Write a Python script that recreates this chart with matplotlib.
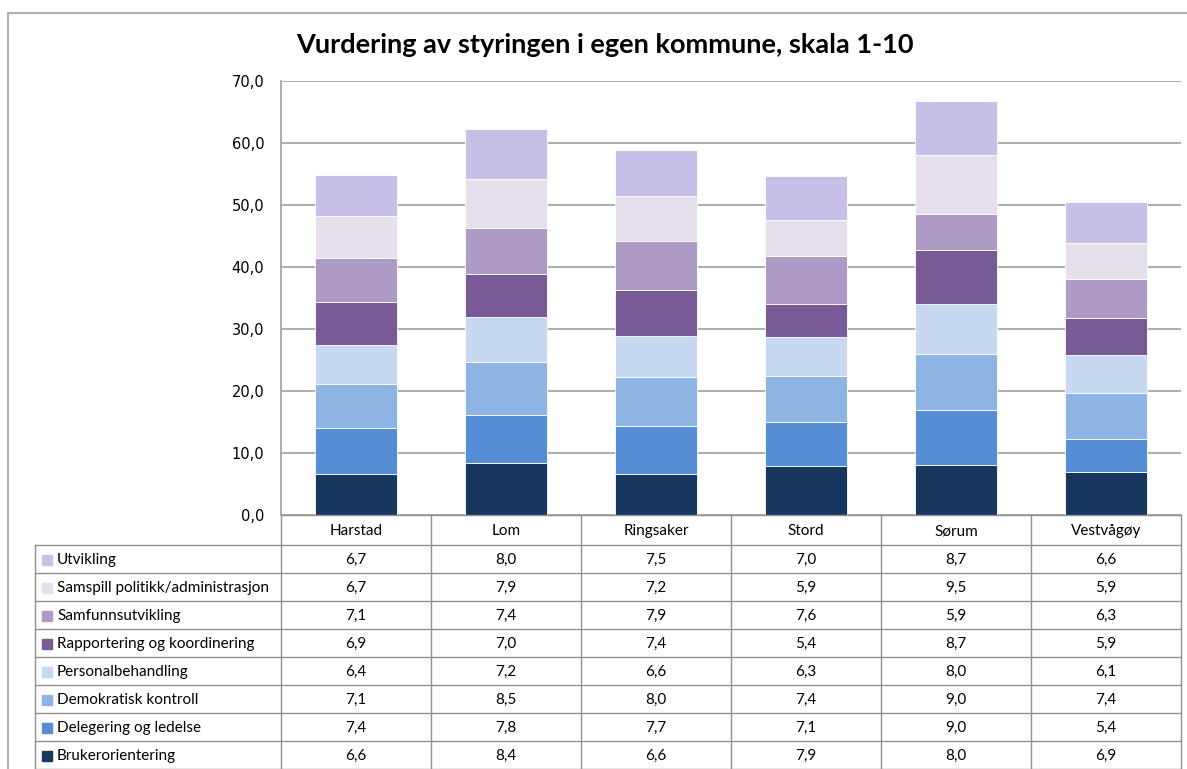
import numpy as np
import matplotlib
matplotlib.use("Agg")
import matplotlib.pyplot as plt
from matplotlib.patches import Rectangle
from matplotlib.lines import Line2D

kommuner = ["Harstad", "Lom", "Ringsaker", "Stord", "Sørum", "Vestvågøy"]

# serier nedenfra og opp i stabelen
serier = ["Brukerorientering", "Delegering og ledelse", "Demokratisk kontroll",
          "Personalbehandling", "Rapportering og koordinering", "Samfunnsutvikling",
          "Samspill politikk/administrasjon", "Utvikling"]
brukerorientering = [6.6, 8.4, 6.6, 7.9, 8.0, 6.9]
delegering = [7.4, 7.8, 7.7, 7.1, 9.0, 5.4]
demokratisk = [7.1, 8.5, 8.0, 7.4, 9.0, 7.4]
personal = [6.4, 7.2, 6.6, 6.3, 8.0, 6.1]
rapportering = [6.9, 7.0, 7.4, 5.4, 8.7, 5.9]
samfunn = [7.1, 7.4, 7.9, 7.6, 5.9, 6.3]
samspill = [6.7, 7.9, 7.2, 5.9, 9.5, 5.9]
utvikling = [6.7, 8.0, 7.5, 7.0, 8.7, 6.6]
verdier = [brukerorientering, delegering, demokratisk, personal,
           rapportering, samfunn, samspill, utvikling]

farger = ["#17375E", "#558ED5", "#8EB4E3", "#C6D9F1",
          "#775A96", "#AD9BC6", "#E6E0EC", "#C8C0E8"]

W, H = 1187, 769
fig = plt.figure(figsize=(W / 100, H / 100), dpi=100)

def fx(px):
    return px / W

def fy(py):
    return 1 - py / H

x_left, x_right = 281, 1181
y_top, y_bot = 81, 515
ax = fig.add_axes([fx(x_left), fy(y_bot), fx(x_right - x_left), (y_bot - y_top) / H])

x = np.arange(len(kommuner))
bunn = np.zeros(len(kommuner))
for navn, v, c in zip(serier, verdier, farger):
    ax.bar(x, v, bottom=bunn, width=0.55, color=c, edgecolor="white", linewidth=0.6, zorder=3)
    bunn += np.array(v)

ax.set_xlim(-0.5, len(kommuner) - 0.5)
ax.set_ylim(0, 70)
ax.set_yticks(np.arange(0, 71, 10))
ax.set_yticklabels([f"{t:.1f}".replace(".", ",") for t in np.arange(0, 71, 10)],
                   fontsize=10.5, family="DejaVu Sans")
ax.tick_params(axis="y", length=0, pad=12)
ax.set_xticks([])
ax.grid(axis="y", color="#A0A0A0", linewidth=1.2, zorder=0)
for s in ["top", "right", "bottom"]:
    ax.spines[s].set_visible(False)
ax.spines["left"].set_color("#A0A0A0")
ax.spines["left"].set_linewidth(1.2)

fig.text(fx(605), fy(45), "Vurdering av styringen i egen kommune, skala 1-10",
         ha="center", va="center", fontsize=19.5, fontweight="bold", family="Lato")

# ytre ramme
fig.add_artist(Line2D([fx(8), 1], [fy(13), fy(13)], color="#B0B0B0", lw=1.5))
fig.add_artist(Line2D([fx(8), fx(8)], [fy(13), 0], color="#B0B0B0", lw=1.5))

# datatabell
kol_b = (x_right - x_left) / len(kommuner)
rad_h = 28
tab_top = 545
tab_left = 35
linjefarge = "#909090"

fig.add_artist(Line2D([fx(x_left), fx(x_right)], [fy(y_bot), fy(y_bot)], color=linjefarge, lw=1))
for i in range(len(kommuner) + 1):
    xp = x_left + i * kol_b
    fig.add_artist(Line2D([fx(xp), fx(xp)], [fy(y_bot), 0], color=linjefarge, lw=1))
fig.add_artist(Line2D([fx(tab_left), fx(tab_left)], [fy(tab_top), 0], color=linjefarge, lw=1))
for r in range(len(serier) + 1):
    yp = tab_top + r * rad_h
    fig.add_artist(Line2D([fx(tab_left), fx(x_right)], [fy(yp), fy(yp)], color=linjefarge, lw=1))

for i, k in enumerate(kommuner):
    fig.text(fx(x_left + (i + 0.5) * kol_b), fy((y_bot + tab_top) / 2 + 1), k,
             ha="center", va="center", fontsize=11, family="Lato")

for r, idx in enumerate(range(len(serier) - 1, -1, -1)):
    yc = tab_top + (r + 0.5) * rad_h + 1
    fig.add_artist(Rectangle((fx(42), fy(yc + 5)), fx(10), 10 / H, color=farger[idx]))
    fig.text(fx(57), fy(yc), serier[idx], ha="left", va="center", fontsize=11, family="Lato")
    for i, v in enumerate(verdier[idx]):
        fig.text(fx(x_left + (i + 0.5) * kol_b), fy(yc), f"{v:.1f}".replace(".", ","),
                 ha="center", va="center", fontsize=11, family="Lato")

fig.savefig("out.png", dpi=100)
